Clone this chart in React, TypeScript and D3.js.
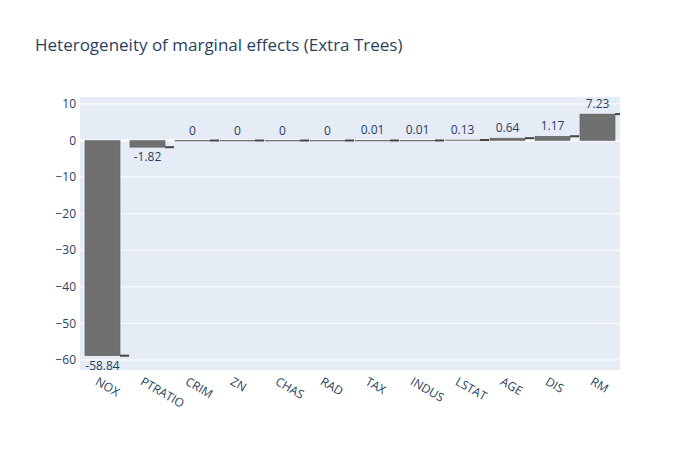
import * as d3 from "d3";

const features = ["NOX", "PTRATIO", "CRIM", "ZN", "CHAS", "RAD", "TAX", "INDUS", "LSTAT", "AGE", "DIS", "RM"];
const effects = [-58.84, -1.82, 0, 0, 0, 0, 0.01, 0.01, 0.13, 0.64, 1.17, 7.23];
const yTicks = [10, 0, -10, -20, -30, -40, -50, -60];

export default function App() {
  const width = 700;
  const height = 450;
  const left = 80, right = 620, top = 97, bottom = 370;

  const x = d3.scaleBand().domain(features).range([left, right]).paddingInner(0.22).paddingOuter(0.11);
  const y = d3.scaleLinear().domain([-62.75, 11.9]).range([bottom, top]);
  const font = "'Open Sans', Verdana, Arial, sans-serif";
  const ink = "#2a3f5f";
  const bw = x.bandwidth();

  return (
    <svg width={width} height={height} style={{ position: "absolute", left: 0, top: 0, fontFamily: font }}>
      <defs>
        <clipPath id="plot"><rect x={left} y={top} width={right - left} height={bottom - top} /></clipPath>
      </defs>
      <rect x={0} y={0} width={width} height={height} fill="white" />
      <rect x={left} y={top} width={right - left} height={bottom - top} fill="#e5ecf6" />
      {yTicks.map(t => (
        <g key={t}>
          <line x1={left} x2={right} y1={y(t)} y2={y(t)} stroke="white" strokeWidth={t === 0 ? 2 : 1} />
          <text x={left - 4} y={y(t)} dy="0.35em" textAnchor="end" fontSize={12} fill={ink}>{t < 0 ? "\u2212" + Math.abs(t) : t}</text>
        </g>
      ))}
      <g clipPath="url(#plot)">
        {features.map((f, i) => {
          const v = effects[i];
          const x0 = x(f)!;
          const y0 = Math.min(y(0), y(v));
          const h = Math.abs(y(v) - y(0));
          return (
            <g key={f}>
              <rect x={x0} y={y0} width={bw} height={Math.max(h, 0.5)} fill="#707070" stroke="#5a5a5a" strokeWidth={0.5} />
              <line x1={x0 + bw} x2={x0 + bw + 9} y1={y(v)} y2={y(v)} stroke="#444" strokeWidth={2} />
              <text x={x0 + bw / 2} y={v < 0 ? y(v) + 14 : y(v) - 6} textAnchor="middle" fontSize={12} fill={ink}>{v}</text>
            </g>
          );
        })}
      </g>
      {features.map(f => {
        const cx = x(f)! + bw / 2;
        return (
          <text key={f} transform={`translate(${cx - 8},${bottom + 14}) rotate(30)`} fontSize={12} fill={ink}>{f}</text>
        );
      })}
      <text x={35} y={51} fontSize={17} fill={ink}>Heterogeneity of marginal effects (Extra Trees)</text>
    </svg>
  );
}
